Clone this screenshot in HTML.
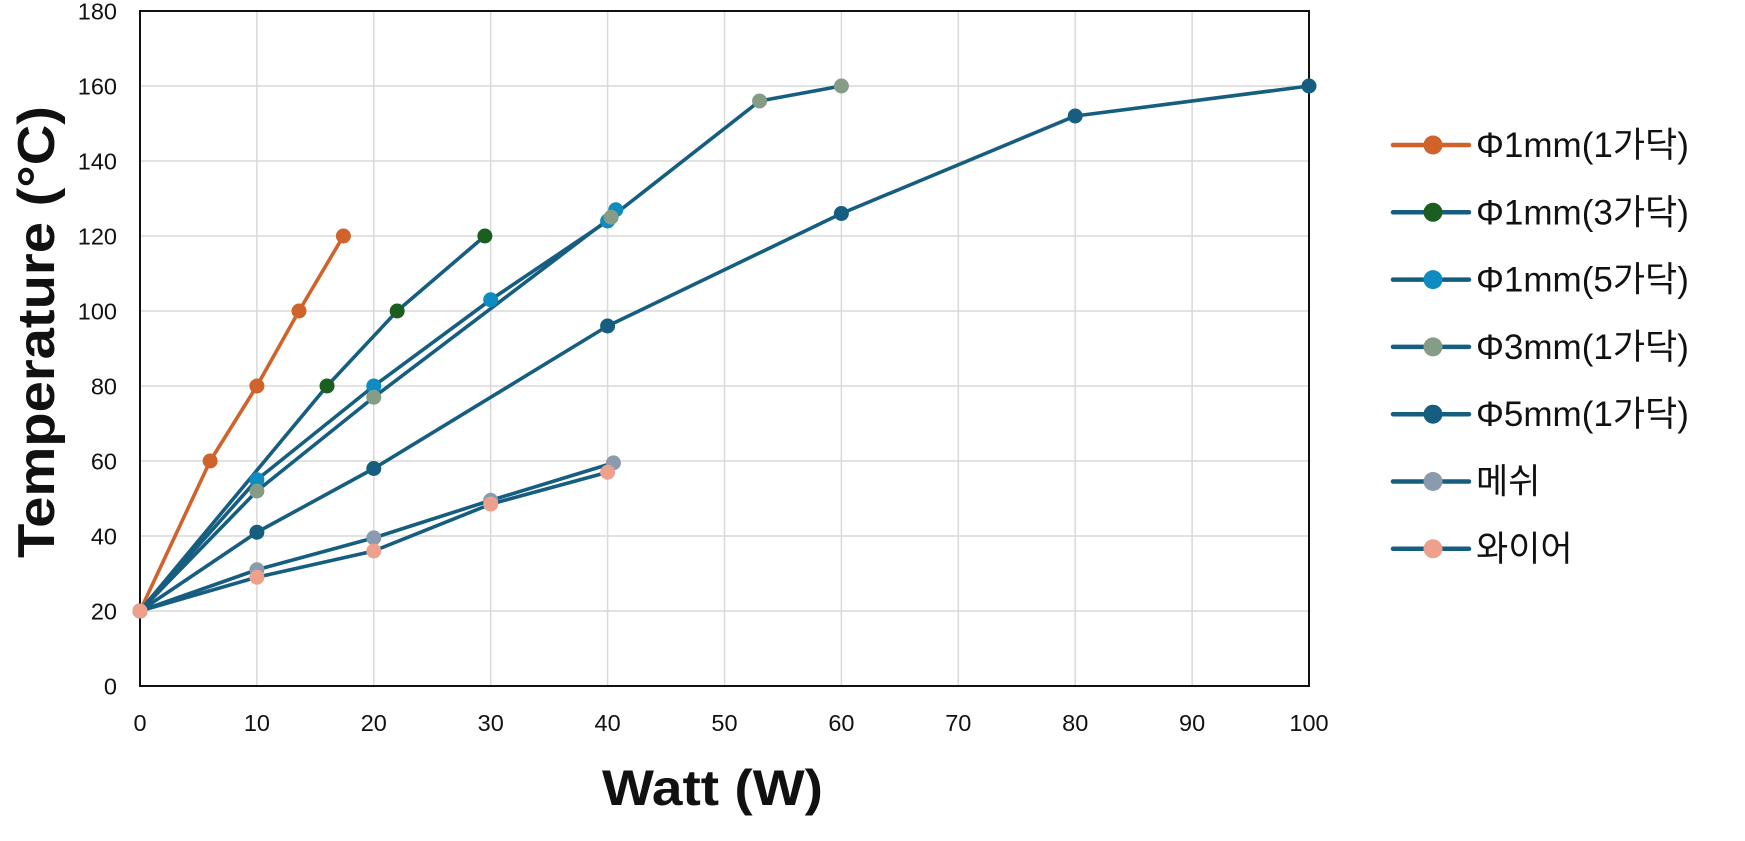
<!DOCTYPE html>
<html><head><meta charset="utf-8"><style>
html,body{margin:0;padding:0;background:#fff;}
svg{display:block;font-family:"Liberation Sans","Noto Sans CJK KR",sans-serif;}
</style></head><body>
<svg id="s" width="1745" height="841" xmlns="http://www.w3.org/2000/svg"></svg>
<script>
const s=document.getElementById('s');
const L=140,R=1309,T=11,B=686;
const X=v=>L+(R-L)*v/100, Y=v=>B-(B-T)*v/180;
let h='';
for(let i=1;i<=10;i++){h+=`<line x1="${X(i*10)}" y1="${T}" x2="${X(i*10)}" y2="${B}" stroke="#d9d9d9" stroke-width="1.5"/>`;}
for(let i=1;i<=9;i++){h+=`<line x1="${L}" y1="${Y(i*20)}" x2="${R}" y2="${Y(i*20)}" stroke="#d9d9d9" stroke-width="1.5"/>`;}
h+=`<rect x="${L}" y="${T}" width="${R-L}" height="${B-T}" fill="none" stroke="#111" stroke-width="2"/>`;
for(let i=0;i<=10;i++){h+=`<text x="${X(i*10)}" y="731" font-size="23.5" text-anchor="middle" fill="#111">${i*10}</text>`;}
for(let i=0;i<=9;i++){h+=`<text x="117" y="${Y(i*20)+8.5}" font-size="23.5" text-anchor="end" fill="#111">${i*20}</text>`;}
const LC='#165e80';
const S=[
['#d0622b','#d0622b',[[0,20],[6,60],[10,80],[13.6,100],[17.4,120]],'Φ1mm(1가닥)'],
[LC,'#1a5e20',[[0,20],[16,80],[22,100],[29.5,120]],'Φ1mm(3가닥)'],
[LC,'#0e8bc0',[[0,20],[10,55],[20,80],[30,103],[40,124],[40.7,127]],'Φ1mm(5가닥)'],
[LC,'#859c87',[[0,20],[10,52],[20,77],[40.3,125],[53,156],[60,160]],'Φ3mm(1가닥)'],
[LC,'#155e80',[[0,20],[10,41],[20,58],[40,96],[60,126],[80,152],[100,160]],'Φ5mm(1가닥)'],
[LC,'#8a9bae',[[0,20],[10,31],[20,39.5],[30,49.5],[40.5,59.5]],'메쉬'],
[LC,'#eda08c',[[0,20],[10,29],[20,36],[30,48.5],[40,57]],'와이어']];
S.forEach((d,k)=>{
 h+=`<polyline fill="none" stroke="${d[0]}" stroke-width="3.6" stroke-linejoin="round" points="${d[2].map(p=>X(p[0])+','+Y(p[1])).join(' ')}"/>`;
});
S.forEach((d,k)=>{
 d[2].forEach(p=>{h+=`<circle cx="${X(p[0])}" cy="${Y(p[1])}" r="7.5" fill="${d[1]}"/>`;});
 const y=145+k*67.3;
 h+=`<line x1="1393" y1="${y}" x2="1469" y2="${y}" stroke="${d[0]}" stroke-width="4.5" stroke-linecap="round"/>`;
 h+=`<circle cx="1433" cy="${y}" r="9.5" fill="${d[1]}"/>`;
 h+=`<text x="1476" y="${y+12}" font-size="35" fill="#111">${d[3]}</text>`;
});
h+=`<text x="602" y="805" font-size="50" font-weight="bold" fill="#111" textLength="221" lengthAdjust="spacingAndGlyphs">Watt (W)</text>`;
h+=`<text transform="translate(54,558) rotate(-90)" x="0" y="0" font-size="52" font-weight="bold" fill="#111" textLength="452" lengthAdjust="spacingAndGlyphs">Temperature (°C)</text>`;
s.innerHTML=h;
</script>
</body></html>
